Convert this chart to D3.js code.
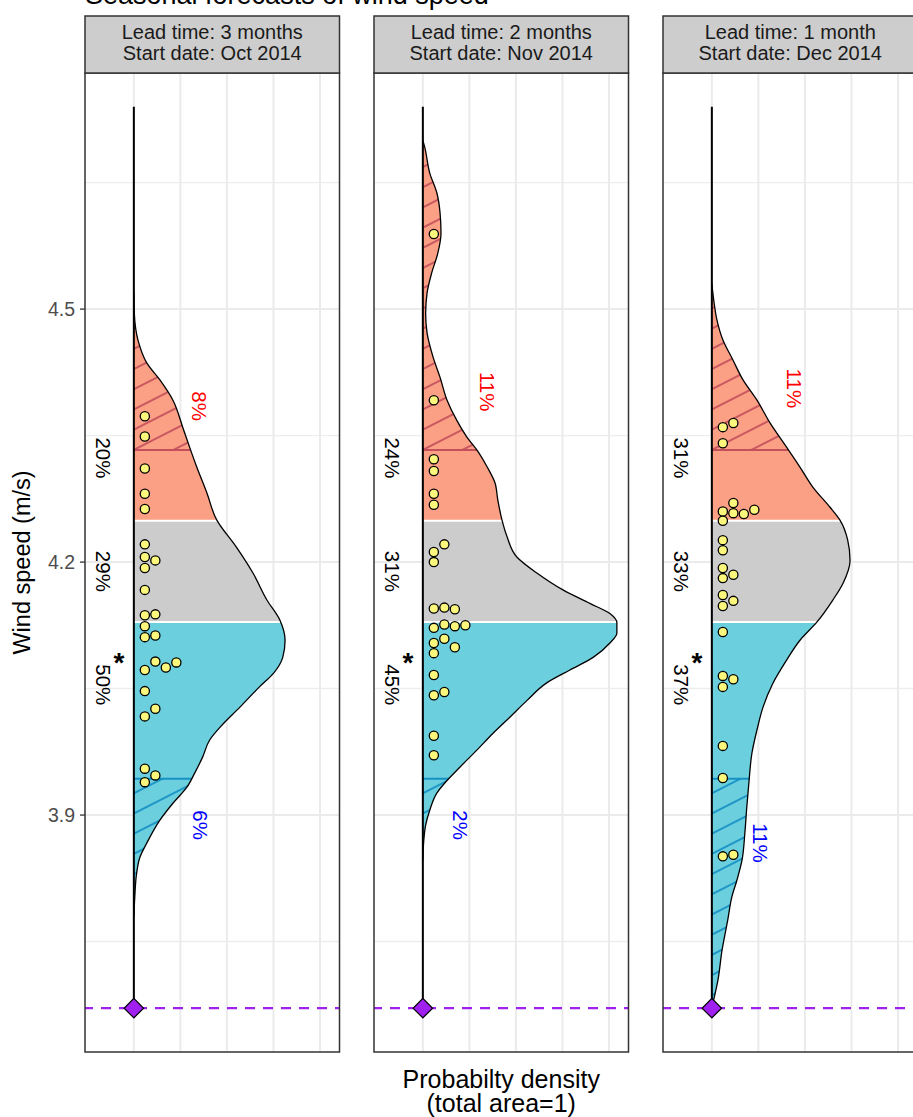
<!DOCTYPE html>
<html>
<head>
<meta charset="utf-8">
<script src="https://cdnjs.cloudflare.com/ajax/libs/d3/7.8.5/d3.min.js"></script>
<style>
  body { margin: 0; background: #fff; }
  svg text { font-family: "Liberation Sans", Arial, Helvetica, sans-serif; }
</style>
</head>
<body>
<svg id="chart" width="913" height="1117"></svg>
<script>
// facet strips
var leadTimes = ["Lead time: 3 months", "Lead time: 2 months", "Lead time: 1 month"];
var startDates = ["Start date: Oct 2014", "Start date: Nov 2014", "Start date: Dec 2014"];

// density curves, [wind speed, density]
var density1 = [[4.520,0],[4.495,0.01],[4.463,0.09],[4.436,0.28],[4.416,0.56],[4.392,0.84],[4.360,1.05],
  [4.336,1.20],[4.313,1.35],[4.282,1.57],[4.250,1.78],[4.218,2.20],[4.187,2.56],[4.155,2.86],[4.131,3.14],
  [4.107,3.25],[4.087,3.20],[4.068,3.00],[4.052,2.70],[4.028,2.28],[4.004,1.85],[3.989,1.63],[3.969,1.48],
  [3.950,1.31],[3.933,1.14],[3.914,0.84],[3.894,0.56],[3.867,0.28],[3.850,0.13],[3.831,0.06],[3.803,0.02],[3.780,0]];
var density2 = [[4.700,0],[4.692,0.04],[4.661,0.15],[4.638,0.30],[4.614,0.37],[4.590,0.39],[4.566,0.32],
  [4.543,0.19],[4.519,0.09],[4.495,0.06],[4.472,0.09],[4.443,0.22],[4.419,0.37],[4.392,0.52],[4.368,0.73],
  [4.348,0.95],[4.333,1.16],[4.313,1.38],[4.294,1.55],[4.274,1.61],[4.250,1.70],[4.230,1.81],[4.206,2.02],
  [4.187,2.45],[4.167,3.01],[4.151,3.59],[4.139,4.02],[4.128,4.17],[4.116,4.17],[4.104,4.02],[4.087,3.66],
  [4.072,3.16],[4.057,2.67],[4.036,2.24],[4.016,1.87],[3.997,1.51],[3.977,1.16],[3.957,0.80],[3.941,0.52],
  [3.926,0.30],[3.906,0.15],[3.888,0.06],[3.870,0.02],[3.847,0]];
var density3 = [[4.530,0],[4.511,0.04],[4.487,0.11],[4.463,0.24],[4.440,0.45],[4.416,0.67],[4.392,0.97],
  [4.365,1.25],[4.336,1.61],[4.313,1.89],[4.289,2.17],[4.265,2.54],[4.250,2.75],[4.226,2.92],[4.202,2.97],
  [4.175,2.82],[4.155,2.60],[4.129,2.26],[4.107,1.89],[4.084,1.61],[4.056,1.31],[4.028,1.10],[4.001,0.97],
  [3.973,0.86],[3.941,0.80],[3.909,0.75],[3.879,0.71],[3.847,0.65],[3.823,0.54],[3.803,0.43],[3.775,0.34],
  [3.740,0.22],[3.704,0.13],[3.681,0.04],[3.671,0]];

// ensemble members (m/s)
var members1 = [4.373,4.349,4.311,4.281,4.263,4.221,4.206,4.202,4.193,4.167,4.137,4.138,4.124,4.111,4.113,
  4.072,4.082,4.075,4.081,4.047,4.017,4.026,3.955,3.939,3.947];
var members2 = [4.589,4.392,4.322,4.308,4.281,4.268,4.212,4.221,4.200,4.145,4.146,4.144,4.122,4.126,4.124,
  4.125,4.104,4.109,4.099,4.092,4.066,4.042,4.046,3.994,3.971];
var members3 = [4.360,4.365,4.341,4.260,4.270,4.258,4.257,4.262,4.249,4.226,4.214,4.193,4.181,4.185,4.161,
  4.148,4.154,4.117,4.065,4.052,4.061,3.982,3.944,3.851,3.853];

// below / normal / above, in %
var tercileProbs1 = [50, 29, 20];
var tercileProbs2 = [45, 31, 24];
var tercileProbs3 = [37, 33, 31];
// low / high extremes, in %
var extremeProbs1 = [6, 8];
var extremeProbs2 = [2, 11];
var extremeProbs3 = [11, 11];
// where the extreme labels sit, [wind speed, density]
var extremeAt1 = [[3.888, 1.42], [4.385, 1.40]];
var extremeAt2 = [[3.888, 0.80], [4.402, 1.38]];
var extremeAt3 = [[3.867, 1.03], [4.406, 1.78]];

var tercileLimits = [4.129, 4.249];
var extremeLimits = [3.943, 4.333];
var observed = 3.671;
var densTop = 4.74;

var yTicks = [3.9, 4.2, 4.5];
var yMinor = [3.75, 4.05, 4.35, 4.65];
var xGrid = [0, 1, 2, 3, 4];

var panels = [
  {lead: leadTimes[0], start: startDates[0], dens: density1, ens: members1, terc: tercileProbs1, ext: extremeProbs1, extAt: extremeAt1},
  {lead: leadTimes[1], start: startDates[1], dens: density2, ens: members2, terc: tercileProbs2, ext: extremeProbs2, extAt: extremeAt2},
  {lead: leadTimes[2], start: startDates[2], dens: density3, ens: members3, terc: tercileProbs3, ext: extremeProbs3, extAt: extremeAt3}
];

var svg = d3.select("#chart");
var panelLeft = [85, 374, 663], panelW = 254.5;
var pTop = 73, pBottom = 1052, stripTop = 16;

var y = d3.scaleLinear().domain([3.619, 4.780]).range([pBottom, pTop]);
var x = d3.scaleLinear().domain([-1.05, 4.42]).range([0, panelW]);

var colAbove = "#fb9f85", colNormal = "#cccccc", colBelow = "#6ccfde";
var hatchUp = "#c4505c", hatchDown = "#1591c4", purple = "#a020f0";

var defs = svg.append("defs");
function hatch(id, color) {
  var p = defs.append("pattern").attr("id", id)
    .attr("patternUnits", "userSpaceOnUse")
    .attr("width", 18).attr("height", 18)
    .attr("patternTransform", "rotate(-27)");
  p.append("line").attr("x1", -2).attr("x2", 20).attr("y1", 9).attr("y2", 9)
    .attr("stroke", color).attr("stroke-width", 1.8);
}
hatch("hatchUp", hatchUp);
hatch("hatchDown", hatchDown);

// title (mostly cut off at the top edge)
svg.append("text").attr("x", 85).attr("y", 4).attr("font-size", 27)
  .attr("fill", "#000").text("Seasonal forecasts of wind speed");

panels.forEach(function (p, i) {
  var g = svg.append("g").attr("transform", "translate(" + panelLeft[i] + ",0)");

  g.append("rect").attr("x", 0).attr("y", pTop).attr("width", panelW).attr("height", pBottom - pTop).attr("fill", "#fff");

  // grid
  g.selectAll(".hmin").data(yMinor).enter().append("line")
    .attr("x1", 0).attr("x2", panelW).attr("y1", d => y(d)).attr("y2", d => y(d))
    .attr("stroke", "#ededed").attr("stroke-width", 1.4);
  g.selectAll(".hmaj").data(yTicks).enter().append("line")
    .attr("x1", 0).attr("x2", panelW).attr("y1", d => y(d)).attr("y2", d => y(d))
    .attr("stroke", "#ebebeb").attr("stroke-width", 2);
  g.selectAll(".vg").data(xGrid).enter().append("line")
    .attr("x1", d => x(d)).attr("x2", d => x(d)).attr("y1", pTop).attr("y2", pBottom)
    .attr("stroke", "#ebebeb").attr("stroke-width", 2);

  var area = d3.area().curve(d3.curveMonotoneY)
    .y(d => y(d[0])).x0(x(0)).x1(d => x(d[1]));
  var line = d3.line().curve(d3.curveMonotoneY)
    .y(d => y(d[0])).x(d => x(d[1]));

  defs.append("clipPath").attr("id", "area" + i)
    .append("path").attr("d", area(p.dens));

  var fill = g.append("g").attr("clip-path", "url(#area" + i + ")");
  var w = panelW;
  fill.append("rect").attr("x", 0).attr("width", w).attr("y", pTop)
    .attr("height", y(tercileLimits[1]) - pTop).attr("fill", colAbove);
  fill.append("rect").attr("x", 0).attr("width", w).attr("y", y(tercileLimits[1]))
    .attr("height", y(tercileLimits[0]) - y(tercileLimits[1])).attr("fill", colNormal);
  fill.append("rect").attr("x", 0).attr("width", w).attr("y", y(tercileLimits[0]))
    .attr("height", pBottom - y(tercileLimits[0])).attr("fill", colBelow);
  fill.append("rect").attr("x", 0).attr("width", w).attr("y", pTop)
    .attr("height", y(extremeLimits[1]) - pTop).attr("fill", "url(#hatchUp)");
  fill.append("rect").attr("x", 0).attr("width", w).attr("y", y(extremeLimits[0]))
    .attr("height", pBottom - y(extremeLimits[0])).attr("fill", "url(#hatchDown)");
  tercileLimits.forEach(function (t) {
    fill.append("line").attr("x1", 0).attr("x2", w).attr("y1", y(t)).attr("y2", y(t))
      .attr("stroke", "#fff").attr("stroke-width", 2);
  });
  fill.append("line").attr("x1", 0).attr("x2", w).attr("y1", y(extremeLimits[1])).attr("y2", y(extremeLimits[1]))
    .attr("stroke", hatchUp).attr("stroke-width", 2);
  fill.append("line").attr("x1", 0).attr("x2", w).attr("y1", y(extremeLimits[0])).attr("y2", y(extremeLimits[0]))
    .attr("stroke", hatchDown).attr("stroke-width", 2);

  g.append("path").attr("d", line(p.dens)).attr("fill", "none")
    .attr("stroke", "#000").attr("stroke-width", 1.3);

  // observation
  g.append("line").attr("x1", 0).attr("x2", panelW).attr("y1", y(observed)).attr("y2", y(observed))
    .attr("stroke", purple).attr("stroke-width", 2.4).attr("stroke-dasharray", "10,8")
    .attr("stroke-dashoffset", 2);
  g.append("line").attr("x1", x(0)).attr("x2", x(0)).attr("y1", y(densTop)).attr("y2", y(observed))
    .attr("stroke", "#000").attr("stroke-width", 2);

  // ensemble members, stacked sideways when they touch
  var cols = [], rPx = 8.8;
  var pts = p.ens.map(function (v) {
    var py = y(v), k = 0;
    while (cols[k] && cols[k].some(q => Math.abs(q - py) < rPx)) k++;
    (cols[k] = cols[k] || []).push(py);
    return {py: py, k: k};
  });
  g.selectAll(".ens").data(pts).enter().append("circle")
    .attr("cx", d => x(0) + 11 + 10.5 * d.k).attr("cy", d => d.py).attr("r", 4.6)
    .attr("fill", "#fbf77c").attr("stroke", "#000").attr("stroke-width", 1.3);

  g.append("path").attr("d", d3.symbol(d3.symbolSquare, 190)())
    .attr("transform", "translate(" + x(0) + "," + y(observed) + ") rotate(45)")
    .attr("fill", purple).attr("stroke", "#000").attr("stroke-width", 1.2);

  // tercile probabilities
  var labY = [tercileLimits[0] - 0.0745, (tercileLimits[0] + tercileLimits[1]) / 2, tercileLimits[1] + 0.0745];
  var labX = x(0) - 31;
  p.terc.forEach(function (v, j) {
    g.append("text").attr("transform", "translate(" + labX + "," + y(labY[j]) + ") rotate(90)")
      .attr("text-anchor", "middle").attr("dy", "0.35em").attr("font-size", 20.5)
      .attr("fill", "#000").text(v + "%");
  });
  var best = p.terc.indexOf(d3.max(p.terc));
  g.append("text").attr("x", labX + 16).attr("y", y(labY[best] + 0.032) + 14)
    .attr("text-anchor", "middle").attr("font-size", 28).attr("font-weight", "bold")
    .attr("fill", "#000").text("*");

  // extreme probabilities
  [hatchDown, hatchUp].forEach(function (c, j) {
    g.append("text")
      .attr("transform", "translate(" + x(p.extAt[j][1]) + "," + y(p.extAt[j][0]) + ") rotate(90)")
      .attr("text-anchor", "middle").attr("dy", "0.35em").attr("font-size", 20.5)
      .attr("fill", j === 0 ? "#0000ff" : "#ff0000").text(p.ext[j] + "%");
  });

  g.append("rect").attr("x", 0).attr("y", pTop).attr("width", panelW).attr("height", pBottom - pTop)
    .attr("fill", "none").attr("stroke", "#333").attr("stroke-width", 1.5);

  // strip
  g.append("rect").attr("x", 0).attr("y", stripTop).attr("width", panelW).attr("height", pTop - stripTop)
    .attr("fill", "#cdcdcd").attr("stroke", "#333").attr("stroke-width", 1.5);
  g.append("text").attr("x", panelW / 2).attr("y", 39).attr("text-anchor", "middle")
    .attr("font-size", 20).attr("fill", "#1a1a1a").text(p.lead);
  g.append("text").attr("x", panelW / 2).attr("y", 60).attr("text-anchor", "middle")
    .attr("font-size", 20).attr("fill", "#1a1a1a").text(p.start);

  if (i === 0) {
    g.selectAll(".tk").data(yTicks).enter().append("line")
      .attr("x1", -5).attr("x2", 0).attr("y1", d => y(d)).attr("y2", d => y(d))
      .attr("stroke", "#333").attr("stroke-width", 1.3);
    g.selectAll(".tl").data(yTicks).enter().append("text")
      .attr("x", -10).attr("y", d => y(d)).attr("dy", "0.35em").attr("text-anchor", "end")
      .attr("font-size", 19.5).attr("fill", "#4d4d4d").text(d => d3.format(".1f")(d));
  }
});

svg.append("text").attr("transform", "translate(30," + (pTop + pBottom) / 2 + ") rotate(-90)")
  .attr("text-anchor", "middle").attr("font-size", 23.5).attr("fill", "#000").text("Wind speed (m/s)");
var xc = (panelLeft[0] + panelLeft[2] + panelW) / 2;
svg.append("text").attr("x", xc).attr("y", 1088).attr("text-anchor", "middle")
  .attr("font-size", 25).attr("fill", "#000").text("Probabilty density");
svg.append("text").attr("x", xc).attr("y", 1112).attr("text-anchor", "middle")
  .attr("font-size", 25).attr("fill", "#000").text("(total area=1)");
</script>
</body>
</html>
